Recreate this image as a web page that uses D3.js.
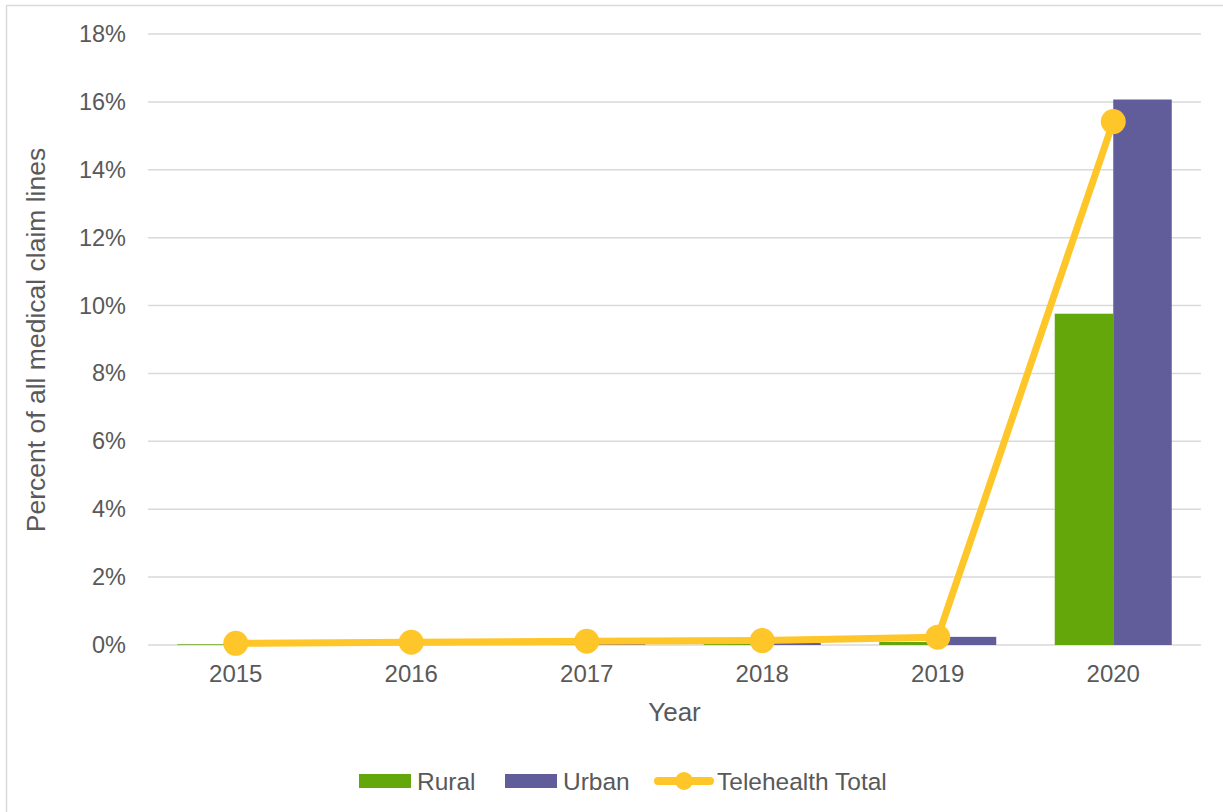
<!DOCTYPE html>
<html><head><meta charset="utf-8">
<script src="https://cdn.jsdelivr.net/npm/d3@7"></script>
<style>
body{margin:0;background:#fff;}
text{font-family:"Liberation Sans",Arial,sans-serif;fill:#595959;}
</style></head>
<body><svg id="c" width="1223" height="812"></svg>
<script>
const years = ["2015","2016","2017","2018","2019","2020"];
const rural = [0.02, 0.02, 0.03, 0.04, 0.09, 9.76];
const urban = [0.01, 0.02, 0.04, 0.06, 0.24, 16.07];
const total = [0.05, 0.08, 0.11, 0.13, 0.23, 15.42];
const yTicks = [0,2,4,6,8,10,12,14,16,18];

const svg = d3.select("#c");
svg.append("rect").attr("x",6.5).attr("y",5.5).attr("width",1230).attr("height",820)
  .attr("fill","none").attr("stroke","#d9d9d9").attr("stroke-width",1.5);

const L=148,R=1201,T=34,B=645;
const x = d3.scaleBand().domain(years).range([L,R]).paddingInner(0).paddingOuter(0);
const sub = d3.scaleBand().domain(["Rural","Urban"]).range([0,x.bandwidth()]).paddingInner(0).paddingOuter(0.5);
const y = d3.scaleLinear().domain([0,18]).range([B,T]);

const g = svg.append("g");
g.selectAll("line.grid").data(yTicks).enter().append("line")
  .attr("x1",L).attr("x2",R).attr("y1",d=>y(d)).attr("y2",d=>y(d))
  .attr("stroke","#d9d9d9").attr("stroke-width",1.5);

const yAxis = d3.axisLeft(y).tickValues(yTicks).tickFormat(d=>d+"%").tickSize(0).tickPadding(22);
const ya = svg.append("g").attr("transform",`translate(${L},0)`).call(yAxis);
ya.select(".domain").remove();
ya.selectAll("text").attr("font-size",23.5).style("fill","#595959").attr("font-family","Liberation Sans, Arial, sans-serif");

const xAxis = d3.axisBottom(x).tickSize(0).tickPadding(20);
const xa = svg.append("g").attr("transform",`translate(0,${B})`).call(xAxis);
xa.select(".domain").remove();
xa.selectAll("text").attr("font-size",24).style("fill","#595959").attr("font-family","Liberation Sans, Arial, sans-serif");

const series = [{k:"Rural",v:rural,c:"#63a70a"},{k:"Urban",v:urban,c:"#615d9a"}];
series.forEach(s=>{
  g.selectAll(null).data(years).enter().append("rect")
    .attr("x",(d)=>x(d)+sub(s.k))
    .attr("width",sub.bandwidth())
    .attr("y",(d,i)=>y(s.v[i]))
    .attr("height",(d,i)=>B-y(s.v[i]))
    .attr("fill",s.c);
});

const line = d3.line().x((d,i)=>x(years[i])+x.bandwidth()/2).y(d=>y(d));
g.append("path").datum(total).attr("d",line).attr("fill","none")
  .attr("stroke","#ffc629").attr("stroke-width",7).attr("stroke-linejoin","round");
g.selectAll("circle.pt").data(total).enter().append("circle")
  .attr("cx",(d,i)=>x(years[i])+x.bandwidth()/2).attr("cy",d=>y(d)).attr("r",12.5)
  .attr("fill","#ffc629");

svg.append("text").attr("x",(L+R)/2).attr("y",721).attr("text-anchor","middle")
  .attr("font-size",26).text("Year");
svg.append("text").attr("transform","translate(45,340) rotate(-90)").attr("text-anchor","middle")
  .attr("font-size",26.5).text("Percent of all medical claim lines");

const lg = svg.append("g");
const leg = [{k:"Rural",c:"#63a70a",x:359,t:"bar"},{k:"Urban",c:"#615d9a",x:505,t:"bar"},{k:"Telehealth Total",c:"#ffc629",x:655,t:"line"}];
leg.forEach(l=>{
  if(l.t==="bar"){
    lg.append("rect").attr("x",l.x).attr("y",774).attr("width",52).attr("height",14).attr("fill",l.c);
    lg.append("text").attr("x",l.x+58).attr("y",790).attr("font-size",24.5).text(l.k);
  } else {
    lg.append("line").attr("x1",l.x+3).attr("x2",l.x+55).attr("y1",781).attr("y2",781)
      .attr("stroke",l.c).attr("stroke-width",8).attr("stroke-linecap","round");
    lg.append("circle").attr("cx",l.x+29).attr("cy",781).attr("r",9).attr("fill",l.c);
    lg.append("text").attr("x",l.x+62).attr("y",790).attr("font-size",24.5).text(l.k);
  }
});
</script></body></html>
